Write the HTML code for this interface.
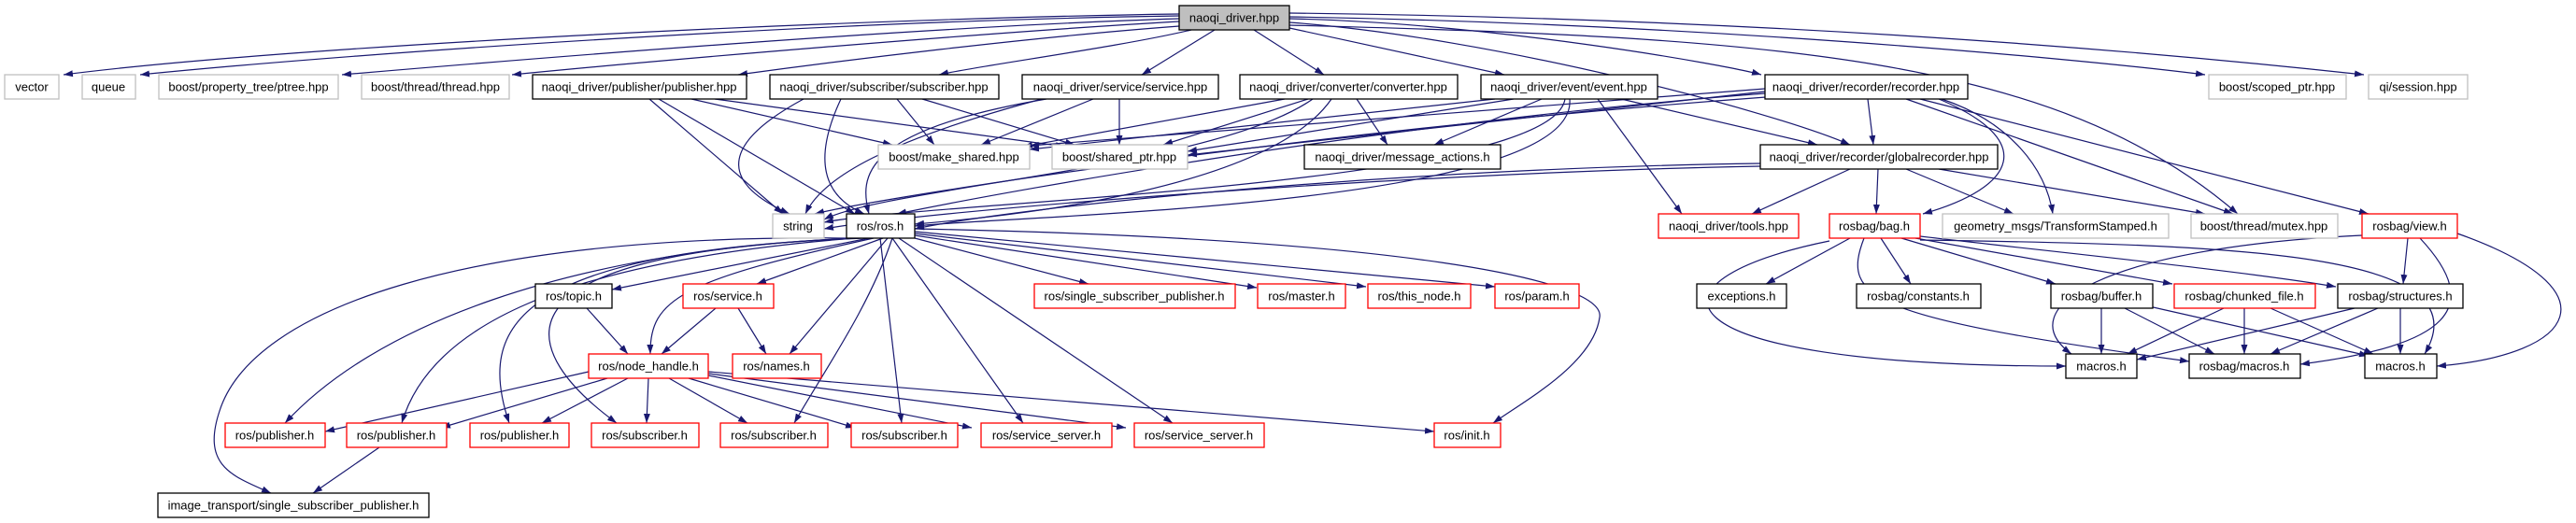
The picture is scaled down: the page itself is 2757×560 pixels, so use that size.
<!DOCTYPE html>
<html><head><meta charset="utf-8"><style>
html,body{margin:0;padding:0;background:#fff;width:2757px;height:560px;overflow:hidden}
svg{display:block}
text{font-family:"Liberation Sans",sans-serif;font-size:13px;fill:#000;text-anchor:middle}
.e{fill:none;stroke:#191970;stroke-width:1.2;marker-end:url(#a)}
.b rect{fill:#fff;stroke:#000;stroke-width:1.3}
.g rect{fill:#fff;stroke:#bfbfbf;stroke-width:1.3}
.r rect{fill:#fff;stroke:#ff0000;stroke-width:1.3}
</style></head><body>
<svg width="2757" height="560" viewBox="0 0 2757 560" xmlns="http://www.w3.org/2000/svg">
<defs><marker id="a" markerUnits="userSpaceOnUse" markerWidth="11" markerHeight="8" refX="10" refY="3.5" orient="auto"><path d="M0,0 L10,3.5 L0,7 z" fill="#191970"/></marker></defs>
<g>
<!-- N edges -->
<path class="e" d="M1262 15 C900 20 300 50 68 80"/>
<path class="e" d="M1262 17 C900 22 400 55 150 80"/>
<path class="e" d="M1262 20 C1000 28 600 60 366 80"/>
<path class="e" d="M1262 23 C1050 35 700 65 548 80"/>
<path class="e" d="M1262 28 C1100 40 900 65 790 80"/>
<path class="e" d="M1275 32 C1200 50 1050 70 1005 80"/>
<path class="e" d="M1300 32 L1222 80"/>
<path class="e" d="M1342 32 L1417 80"/>
<path class="e" d="M1380 30 L1610 80"/>
<path class="e" d="M1380 20 C1600 25 1850 70 1885 80"/>
<path class="e" d="M1380 24 C1600 40 1900 120 1980 155"/>
<path class="e" d="M1380 27 C1900 40 2200 60 2395 229"/>
<path class="e" d="M1380 18 C1800 25 2200 60 2360 80"/>
<path class="e" d="M1380 14 C1900 20 2300 55 2530 80"/>
<!-- publisher.hpp -->
<path class="e" d="M695 106 L838 229"/>
<path class="e" d="M705 106 L915 229"/>
<path class="e" d="M740 106 L955 155"/>
<path class="e" d="M765 106 L1140 157"/>
<!-- subscriber.hpp -->
<path class="e" d="M860 106 C760 160 780 200 845 229"/>
<path class="e" d="M900 106 C870 170 880 210 925 229"/>
<path class="e" d="M960 106 L1000 155"/>
<path class="e" d="M987 106 L1150 155"/>
<!-- service.hpp -->
<path class="e" d="M1115 106 C950 150 880 190 862 229"/>
<path class="e" d="M1120 106 C920 140 920 190 930 229"/>
<path class="e" d="M1170 106 L1050 155"/>
<path class="e" d="M1198 106 L1198 155"/>
<!-- converter -->
<path class="e" d="M1375 106 L1095 157"/>
<path class="e" d="M1400 106 L1245 155"/>
<path class="e" d="M1452 106 L1485 155"/>
<path class="e" d="M1425 106 C1360 200 1100 230 979 240"/>
<path class="e" d="M1405 106 C1300 180 950 200 882 235"/>
<!-- event -->
<path class="e" d="M1600 106 L1102 160"/>
<path class="e" d="M1620 106 L1271 162"/>
<path class="e" d="M1650 106 L1535 155"/>
<path class="e" d="M1710 106 L1800 229"/>
<path class="e" d="M1680 106 C1690 220 1100 230 979 242"/>
<path class="e" d="M1675 106 C1660 200 1000 215 882 238"/>
<path class="e" d="M1735 106 L1945 155"/>
<!-- recorder -->
<path class="e" d="M1889 100 C1500 130 1100 200 960 229"/>
<path class="e" d="M1890 104 C1400 140 950 210 872 229"/>
<path class="e" d="M1889 95 L1102 156"/>
<path class="e" d="M1889 98 L1271 166"/>
<path class="e" d="M1999 106 L2005 155"/>
<path class="e" d="M2075 106 C2180 150 2160 200 2058 229"/>
<path class="e" d="M2078 106 C2150 130 2190 180 2197 229"/>
<path class="e" d="M2040 106 L2390 229"/>
<path class="e" d="M2055 106 L2535 229"/>
<!-- globalrecorder -->
<path class="e" d="M1884 175 C1500 180 1100 220 979 245"/>
<path class="e" d="M1884 178 C1500 185 1000 225 882 245"/>
<path class="e" d="M1980 181 L1875 229"/>
<path class="e" d="M2010 181 L2008 229"/>
<path class="e" d="M2040 181 L2155 229"/>
<path class="e" d="M2075 181 L2360 229"/>
<!-- ros.h -->
<path class="e" d="M910 255 C500 250 270 330 235 440 C215 500 250 510 290 528"/>
<path class="e" d="M912 255 C600 270 400 350 305 453"/>
<path class="e" d="M915 255 C600 280 460 350 430 453"/>
<path class="e" d="M920 255 C550 270 510 350 545 453"/>
<path class="e" d="M925 255 C500 270 560 380 660 453"/>
<path class="e" d="M930 255 L655 310"/>
<path class="e" d="M935 255 C730 300 695 320 696 379"/>
<path class="e" d="M945 255 L810 304"/>
<path class="e" d="M950 255 L845 379"/>
<path class="e" d="M955 255 C930 330 880 400 850 453"/>
<path class="e" d="M942 255 L965 453"/>
<path class="e" d="M955 255 L1095 453"/>
<path class="e" d="M962 255 L1255 453"/>
<path class="e" d="M979 255 L1165 304"/>
<path class="e" d="M979 252 L1345 308"/>
<path class="e" d="M979 250 L1462 307"/>
<path class="e" d="M979 248 L1600 307"/>
<path class="e" d="M979 245 C1500 255 1720 300 1712 340 C1705 390 1630 430 1598 453"/>
<path class="e" d="M628 330 L672 379"/>
<path class="e" d="M766 330 L708 379"/>
<path class="e" d="M790 330 L820 379"/>
<!-- node_handle -->
<path class="e" d="M630 398 L348 462"/>
<path class="e" d="M650 405 L472 458"/>
<path class="e" d="M672 405 L580 453"/>
<path class="e" d="M694 405 L692 453"/>
<path class="e" d="M716 405 L800 453"/>
<path class="e" d="M737 405 L915 458"/>
<path class="e" d="M758 402 L1040 458"/>
<path class="e" d="M758 400 L1205 458"/>
<path class="e" d="M758 398 L1535 462"/>
<path class="e" d="M406 479 L335 528"/>
<!-- bag.h -->
<path class="e" d="M1980 255 L1890 304"/>
<path class="e" d="M2013 255 L2045 304"/>
<path class="e" d="M2035 255 L2200 304"/>
<path class="e" d="M2050 255 L2325 304"/>
<path class="e" d="M2055 253 C2200 270 2400 290 2500 307"/>
<path class="e" d="M1958 258 C1750 300 1760 392 2211 392"/>
<path class="e" d="M1995 255 C1970 320 2000 340 2343 387"/>
<path class="e" d="M2055 257 C2400 262 2660 270 2595 379"/>
<!-- view.h -->
<path class="e" d="M2577 255 L2572 304"/>
<path class="e" d="M2528 252 C2250 265 2150 330 2217 379"/>
<path class="e" d="M2590 255 C2660 330 2620 370 2462 390"/>
<path class="e" d="M2630 250 C2800 310 2760 380 2608 392"/>
<!-- buffer/chunked/structures -->
<path class="e" d="M2249 330 L2249 379"/>
<path class="e" d="M2274 330 L2370 379"/>
<path class="e" d="M2300 328 L2535 381"/>
<path class="e" d="M2380 330 L2277 379"/>
<path class="e" d="M2402 330 L2402 379"/>
<path class="e" d="M2430 330 L2540 379"/>
<path class="e" d="M2520 330 L2287 385"/>
<path class="e" d="M2545 330 L2430 379"/>
<path class="e" d="M2569 330 L2569 379"/>
</g>
<!-- nodes -->
<g><rect x="1262" y="6" width="118" height="26" fill="#bfbfbf" stroke="#000" stroke-width="1.3"/><text x="1321" y="23.5">naoqi_driver.hpp</text></g>
<g class="g"><rect x="5" y="80" width="58" height="26"/><text x="34" y="97.5">vector</text></g>
<g class="g"><rect x="88" y="80" width="57" height="26"/><text x="116" y="97.5">queue</text></g>
<g class="g"><rect x="170" y="80" width="192" height="26"/><text x="266" y="97.5">boost/property_tree/ptree.hpp</text></g>
<g class="g"><rect x="387" y="80" width="158" height="26"/><text x="466" y="97.5">boost/thread/thread.hpp</text></g>
<g class="b"><rect x="570" y="80" width="229" height="26"/><text x="684" y="97.5">naoqi_driver/publisher/publisher.hpp</text></g>
<g class="b"><rect x="824" y="80" width="245" height="26"/><text x="946" y="97.5">naoqi_driver/subscriber/subscriber.hpp</text></g>
<g class="b"><rect x="1094" y="80" width="210" height="26"/><text x="1199" y="97.5">naoqi_driver/service/service.hpp</text></g>
<g class="b"><rect x="1327" y="80" width="233" height="26"/><text x="1443" y="97.5">naoqi_driver/converter/converter.hpp</text></g>
<g class="b"><rect x="1585" y="80" width="189" height="26"/><text x="1679" y="97.5">naoqi_driver/event/event.hpp</text></g>
<g class="b"><rect x="1889" y="80" width="217" height="26"/><text x="1997" y="97.5">naoqi_driver/recorder/recorder.hpp</text></g>
<g class="g"><rect x="2364" y="80" width="147" height="26"/><text x="2437" y="97.5">boost/scoped_ptr.hpp</text></g>
<g class="g"><rect x="2535" y="80" width="106" height="26"/><text x="2588" y="97.5">qi/session.hpp</text></g>

<g class="g"><rect x="940" y="155" width="162" height="26"/><text x="1021" y="172.5">boost/make_shared.hpp</text></g>
<g class="g"><rect x="1126" y="155" width="145" height="26"/><text x="1198" y="172.5">boost/shared_ptr.hpp</text></g>
<g class="b"><rect x="1396" y="155" width="210" height="26"/><text x="1501" y="172.5">naoqi_driver/message_actions.h</text></g>
<g class="b"><rect x="1884" y="155" width="254" height="26"/><text x="2011" y="172.5">naoqi_driver/recorder/globalrecorder.hpp</text></g>

<g class="g"><rect x="827" y="229" width="55" height="26"/><text x="854" y="246.5">string</text></g>
<g class="b"><rect x="906" y="229" width="73" height="26"/><text x="942" y="246.5">ros/ros.h</text></g>
<g class="r"><rect x="1775" y="229" width="150" height="26"/><text x="1850" y="246.5">naoqi_driver/tools.hpp</text></g>
<g class="r"><rect x="1958" y="229" width="97" height="26"/><text x="2006" y="246.5">rosbag/bag.h</text></g>
<g class="g"><rect x="2079" y="229" width="242" height="26"/><text x="2200" y="246.5">geometry_msgs/TransformStamped.h</text></g>
<g class="g"><rect x="2345" y="229" width="157" height="26"/><text x="2423" y="246.5">boost/thread/mutex.hpp</text></g>
<g class="r"><rect x="2528" y="229" width="102" height="26"/><text x="2579" y="246.5">rosbag/view.h</text></g>

<g class="b"><rect x="573" y="304" width="82" height="26"/><text x="614" y="321.5">ros/topic.h</text></g>
<g class="r"><rect x="731" y="304" width="97" height="26"/><text x="779" y="321.5">ros/service.h</text></g>
<g class="r"><rect x="1107" y="304" width="215" height="26"/><text x="1214" y="321.5">ros/single_subscriber_publisher.h</text></g>
<g class="r"><rect x="1346" y="304" width="94" height="26"/><text x="1393" y="321.5">ros/master.h</text></g>
<g class="r"><rect x="1464" y="304" width="110" height="26"/><text x="1519" y="321.5">ros/this_node.h</text></g>
<g class="r"><rect x="1600" y="304" width="90" height="26"/><text x="1645" y="321.5">ros/param.h</text></g>
<g class="b"><rect x="1816" y="304" width="96" height="26"/><text x="1864" y="321.5">exceptions.h</text></g>
<g class="b"><rect x="1987" y="304" width="133" height="26"/><text x="2053" y="321.5">rosbag/constants.h</text></g>
<g class="b"><rect x="2195" y="304" width="109" height="26"/><text x="2249" y="321.5">rosbag/buffer.h</text></g>
<g class="r"><rect x="2327" y="304" width="151" height="26"/><text x="2402" y="321.5">rosbag/chunked_file.h</text></g>
<g class="b"><rect x="2502" y="304" width="134" height="26"/><text x="2569" y="321.5">rosbag/structures.h</text></g>

<g class="r"><rect x="630" y="379" width="128" height="26"/><text x="694" y="396.5">ros/node_handle.h</text></g>
<g class="r"><rect x="784" y="379" width="95" height="26"/><text x="831" y="396.5">ros/names.h</text></g>
<g class="b"><rect x="2211" y="379" width="76" height="26"/><text x="2249" y="396.5">macros.h</text></g>
<g class="b"><rect x="2343" y="379" width="119" height="26"/><text x="2402" y="396.5">rosbag/macros.h</text></g>
<g class="b"><rect x="2531" y="379" width="77" height="26"/><text x="2569" y="396.5">macros.h</text></g>

<g class="r"><rect x="241" y="453" width="107" height="26"/><text x="294" y="470.5">ros/publisher.h</text></g>
<g class="r"><rect x="371" y="453" width="107" height="26"/><text x="424" y="470.5">ros/publisher.h</text></g>
<g class="r"><rect x="503" y="453" width="106" height="26"/><text x="556" y="470.5">ros/publisher.h</text></g>
<g class="r"><rect x="633" y="453" width="115" height="26"/><text x="690" y="470.5">ros/subscriber.h</text></g>
<g class="r"><rect x="771" y="453" width="115" height="26"/><text x="828" y="470.5">ros/subscriber.h</text></g>
<g class="r"><rect x="911" y="453" width="114" height="26"/><text x="968" y="470.5">ros/subscriber.h</text></g>
<g class="r"><rect x="1050" y="453" width="140" height="26"/><text x="1120" y="470.5">ros/service_server.h</text></g>
<g class="r"><rect x="1214" y="453" width="139" height="26"/><text x="1283" y="470.5">ros/service_server.h</text></g>
<g class="r"><rect x="1535" y="453" width="71" height="26"/><text x="1570" y="470.5">ros/init.h</text></g>

<g class="b"><rect x="169" y="528" width="290" height="26"/><text x="314" y="545.5">image_transport/single_subscriber_publisher.h</text></g>
</svg>
</body></html>
